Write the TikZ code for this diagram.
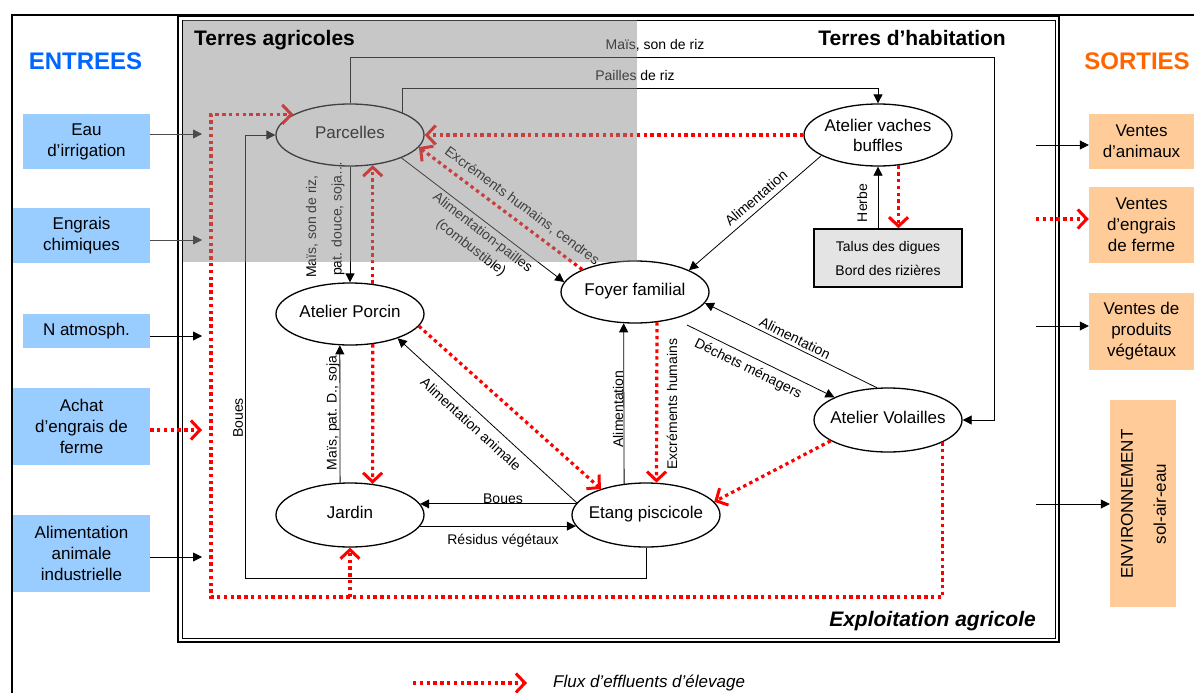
\documentclass[tikz,border=0pt]{standalone}
\usepackage{fontspec}
\setmainfont{Liberation Sans}
\usetikzlibrary{arrows.meta,shapes.geometric,calc}
\definecolor{inblue}{HTML}{99CCFF}
\definecolor{outor}{HTML}{FFCC99}
\definecolor{tblue}{HTML}{0066FF}
\definecolor{torange}{HTML}{FF6600}
\definecolor{effl}{HTML}{FF0000}
\definecolor{ovgray}{RGB}{137,137,137}
\definecolor{talusgray}{RGB}{228,228,228}
\begin{document}
\begin{tikzpicture}[x=1pt,y=-1pt,
  every node/.style={font=\fontsize{17}{20}\selectfont, inner sep=0pt},
  elli/.style={ellipse, draw, line width=1.3pt, minimum width=148pt, minimum height=62pt, inner xsep=-10pt, fill=white, align=center},
  single/.style={text height=12pt, text depth=6pt},
  inbox/.style={fill=inblue, align=center, font=\fontsize{17}{21}\selectfont},
  outbox/.style={fill=outor, align=center, font=\fontsize{17}{21}\selectfont},
  arr/.style={line width=0.8pt, -{Triangle[length=9pt,width=9pt]}},
  eff/.style={effl, line width=3.2pt, dash pattern=on 3.4pt off 3.4pt, -{Straight Barb[length=9pt,width=19pt,line width=3pt]}},
  lab/.style={font=\fontsize{14}{17}\selectfont},
  ttl/.style={font=\bfseries\fontsize{21}{24}\selectfont},
  ]
\useasboundingbox (0,0) rectangle (1194,693);
\fill[white] (0,0) rectangle (1194,693);

% frames
\draw[line width=2.2pt] (12,693) -- (12,15) -- (1194,15);
\draw[line width=2pt] (178,16) rectangle (1059,642);
\draw[line width=0.9pt] (182,20) rectangle (1055,638);

% titles
\node[anchor=base, font=\bfseries\fontsize{24}{28}\selectfont, text=tblue] (entrees) at (85.5,70) {ENTREES};
\node[anchor=base, font=\bfseries\fontsize{24}{28}\selectfont, text=torange] (sorties) at (1137,70) {SORTIES};
\node[ttl, anchor=base east] (habit) at (1006,46) {Terres d’habitation};
\node[anchor=base east, font=\bfseries\itshape\fontsize{21}{24}\selectfont] (exploit) at (1036,626) {Exploitation agricole};

% input boxes
\node[inbox, minimum width=127pt, minimum height=55pt] (eau) at (86.5,141.5) {Eau\\d’irrigation};
\node[inbox, minimum width=137pt, minimum height=55pt] (engr) at (81.5,235.5) {Engrais\\chimiques};
\node[inbox, minimum width=127pt, minimum height=34pt] (natm) at (86.5,331) {N atmosph.};
\node[inbox, minimum width=137pt, minimum height=77pt] (achat) at (81.5,426.5) {Achat\\d’engrais de\\ferme};
\node[inbox, minimum width=137pt, minimum height=77pt] (alim) at (81.5,553.5) {Alimentation\\animale\\industrielle};

% output boxes
\node[outbox, minimum width=105pt, minimum height=55pt] (anim) at (1141.5,141.5) {Ventes\\d’animaux};
\node[outbox, minimum width=105pt, minimum height=76pt] (veng) at (1141.5,225) {Ventes\\d’engrais\\de ferme};
\node[outbox, minimum width=105pt, minimum height=77pt] (vprod) at (1141.5,331.5) {Ventes de\\produits\\végétaux};
\node[fill=outor, minimum width=66pt, minimum height=207pt] (env) at (1143,503.5) {};
\node[rotate=90, align=center, font=\fontsize{17}{33}\selectfont] (envt) at (1143.5,504) {ENVIRONNEMENT\\sol-air-eau};

% main nodes
\node[elli, single] (parc) at (350,135) {Parcelles};
\node[elli] (vach) at (878,135) {Atelier vaches\\buffles};
\node[elli, single] (foyer) at (635,292) {Foyer familial};
\node[elli, single] (porc) at (350,314) {Atelier Porcin};
\node[elli, single, minimum height=64pt] (jard) at (350,515) {Jardin};
\node[elli, single, minimum height=64pt] (etang) at (646,515) {Etang piscicole};
\node[elli, single, minimum height=64pt] (vol) at (888,420) {Atelier Volailles};
\node[draw, line width=1.5pt, fill=talusgray, minimum width=148pt, minimum height=58pt, align=center, font=\fontsize{14}{24}\selectfont] (talus) at (888,258) {Talus des digues\\Bord des rizières};

% black connectors
\coordinate (cA) at (994,57);
\draw[arr] (parc.north) |- (cA) |- (vol.east);
\node[lab, anchor=base] (lA) at (655,49) {Maïs, son de riz};
\coordinate (cB) at (878,88);
\draw[arr] (parc.23) |- (cB) -- (vach.north);
\node[lab, anchor=base] (lB) at (635,81) {Pailles de riz};
\coordinate (cD) at (245,578);
\draw[arr] (etang.south) |- (cD) |- (parc.west);
\node[lab, rotate=90] (lD) at (238,418) {Boues};
\draw[arr] (parc.south) -- (porc.north);
\node[lab, rotate=90, anchor=west] (lP1) at (312,278) {Maïs, son de riz,};
\node[lab, rotate=90, anchor=west] (lP2) at (338,276) {pat. douce, soja…};
\draw[arr] (jard.107.5) -- (porc.-108);
\node[lab, rotate=90] (lG) at (333,413) {Maïs, pat. D., soja};
\draw[arr] (parc.-24) -- (foyer.172);
\node[lab, rotate=-37.8, align=center, font=\fontsize{14}{19}\selectfont] (lH) at (476.5,240.5) {Alimentation-pailles\\(combustible)};
\draw[arr] (vach.200) -- (foyer.22);
\node[lab, rotate=40.8] (lJ) at (756,198) {Alimentation};
\draw[arr] (talus.north -| vach.south) -- (vach.south);
\node[lab, rotate=90] (lK) at (862,203) {Herbe};
\draw[arr] (etang.125.7) -- (foyer.-110);
\node[lab, rotate=90] (lM) at (618,409) {Alimentation};
\draw[arr] ($(foyer.center)+(52,33)$) -- (vol.157.5);
\node[lab, rotate=-26.3] (lO) at (748,369) {Déchets ménagers};
\draw[arr] (vol.109) -- (foyer.-9.8);
\node[lab, rotate=-26.4] (lP) at (795,338) {Alimentation};
\draw[arr] (etang.170) -- (porc.-27);
\node[lab, rotate=-42.4] (lR) at (471,424) {Alimentation animale};
\draw[arr] (etang.171) -- (jard.9);
\node[lab, anchor=base] (lS) at (503,503) {Boues};
\draw[arr] (jard.-9) -- (etang.189);
\node[lab, anchor=base] (lT) at (503,544) {Résidus végétaux};

% effluent connectors
\draw[eff] (vach.west) -- (parc.east);
\coordinate (cE) at (211,597);
\draw[eff] (vol.-22.5) |- (cE) |- (parc.160);
\draw[eff] (cE -| jard.south) -- (jard.south);
\draw[eff] (porc.53.4) -- (parc.-53.4);
\draw[eff] (porc.-53.4) -- (jard.54.3);
\draw[eff] (foyer.157.5) -- (parc.-10.8);
\node[lab, rotate=-36.5] (lI) at (522,206) {Excréments humains, cendres};
\draw[eff] (vach.-56.1) -- (vach.-56.1 |- talus.north);
\draw[eff] (foyer.-54.3) -- (etang.72.5);
\node[lab, rotate=90] (lN) at (672,404) {Excréments humains};
\draw[eff] (porc.-10) -- (etang.150);
\draw[eff] (vol.200) -- (etang.11);

% inputs
\coordinate (i3) at (202,336);
\coordinate (i4) at (202,430);
\coordinate (i5) at (202,557);
\draw[arr] (natm.east |- i3) -- (i3);
\draw[eff] (achat.east |- i4) -- (i4);
\draw[arr] (alim.east |- i5) -- (i5);

% outputs
\coordinate (o1) at (1036,145);
\coordinate (o2) at (1036,219);
\coordinate (o3) at (1036,326);
\coordinate (o4) at (1036,504);
\draw[arr] (o1) -- (anim.west |- o1);
\draw[eff] (o2) -- (veng.west |- o2);
\draw[arr] (o3) -- (vprod.west |- o3);
\draw[arr] (o4) -- (env.west |- o4);

% gray overlay : Terres agricoles
\fill[ovgray, fill opacity=0.47] (183,20) rectangle (637,262);
\node[ttl, anchor=base west] (agri) at (194,46) {Terres agricoles};
\coordinate (i1) at (202,134);
\coordinate (i2) at (202,240);
\draw[arr, black!70] (eau.east |- i1) -- (i1);
\draw[arr, black!70] (engr.east |- i2) -- (i2);

% legend
\coordinate (leg1) at (413,683);
\coordinate (leg2) at (527,683);
\draw[eff] (leg1) -- (leg2);
\node[anchor=base west, font=\itshape\fontsize{17}{20}\selectfont] (leg) at (553,687) {Flux d’effluents d’élevage};
\end{tikzpicture}
\end{document}
